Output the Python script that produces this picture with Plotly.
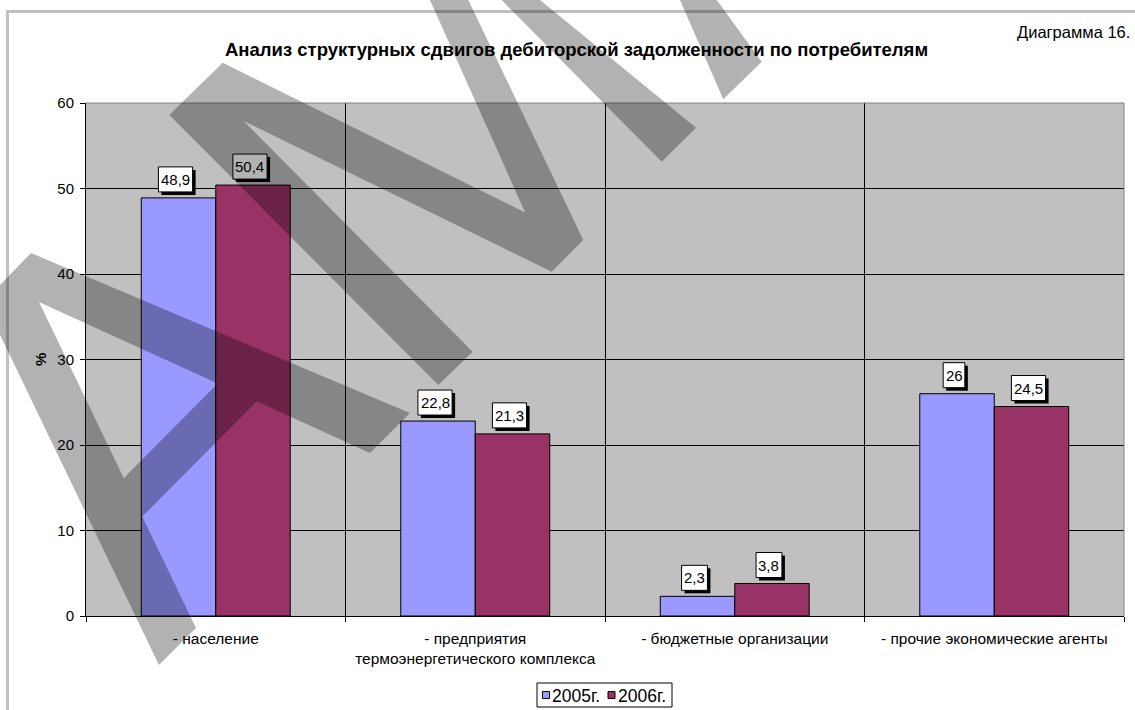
import plotly.graph_objects as go

# ---------------- data ----------------
categories = ["- население",
              "- предприятия<br>термоэнергетического комплекса",
              "- бюджетные организации",
              "- прочие экономические агенты"]
series_names = ["2005г.", "2006г."]
values_2005 = [48.9, 22.8, 2.3, 26.0]
values_2006 = [50.4, 21.3, 3.8, 24.5]
y_ticks = [0, 10, 20, 30, 40, 50, 60]
title_text = "Анализ структурных сдвигов дебиторской задолженности по потребителям"
corner_text = "Диаграмма 16."
y_title = "%"

# ---------------- style ----------------
series_colors = ["#9999FF", "#993366"]
FONT = "Arial, 'Liberation Sans', sans-serif"
W, H = 1135, 710
L, R, T, B = 86, 11, 103, 94
PW, PH = W - L - R, H - T - B
BARGAP = 0.426
LABEL_FS = 15


def paper(px, py):
    return ((px - L) / PW, (H - B - py) / PH)


def fmt(v):
    return f"{v:g}".replace(".", ",")


def text_w(s, fs):
    w = 0.0
    for ch in s:
        if ch.isdigit():
            w += 0.556
        elif ch in ",.":
            w += 0.278
        else:
            w += 0.55
    return w * fs


fig = go.Figure()
all_values = [values_2005, values_2006]
for name, vals, col in zip(series_names, all_values, series_colors):
    fig.add_trace(go.Bar(
        x=categories, y=vals, name=name,
        marker=dict(color=col, line=dict(color="#000000", width=1)),
        showlegend=False, hoverinfo="skip"))

shapes = []
annotations = []

# plot-area border (grey) on top and right edges
shapes.append(dict(type="line", xref="x domain", yref="y domain", x0=0, x1=1, y0=1, y1=1,
                   line=dict(color="#808080", width=1), layer="above"))
shapes.append(dict(type="line", xref="x domain", yref="y domain", x0=1, x1=1, y0=0, y1=1,
                   line=dict(color="#808080", width=1), layer="above"))

# outer chart frame (top and left edges visible)
fx0, fy0 = paper(6, 11.5)
fx1, _ = paper(1140, 11.5)
_, fy1 = paper(7.5, 715)
lx, _ = paper(7.5, 0)
shapes.append(dict(type="line", xref="paper", yref="paper", x0=fx0, x1=fx1, y0=fy0, y1=fy0,
                   line=dict(color="#C0C0C0", width=3), layer="above"))
shapes.append(dict(type="line", xref="paper", yref="paper", x0=lx, x1=lx, y0=fy0, y1=fy1,
                   line=dict(color="#C0C0C0", width=3), layer="above"))

# data labels: white boxes with black drop shadow
half = (1 - BARGAP) / 4
offsets = [-half, half]
for s, vals in enumerate(all_values):
    for i, v in enumerate(vals):
        xc = i + offsets[s]
        lab = fmt(v)
        w = text_w(lab, LABEL_FS) + 5
        shapes.append(dict(type="rect", xref="x", yref="y", xsizemode="pixel", ysizemode="pixel",
                           xanchor=xc, yanchor=v, x0=-w / 2, x1=w / 2, y0=3, y1=28,
                           fillcolor="#000000", line=dict(width=0), layer="above"))
        shapes.append(dict(type="rect", xref="x", yref="y", xsizemode="pixel", ysizemode="pixel",
                           xanchor=xc, yanchor=v, x0=-3 - w / 2, x1=-3 + w / 2, y0=6, y1=31,
                           fillcolor="#FFFFFF", line=dict(color="#000000", width=1), layer="above"))
        annotations.append(dict(x=xc, y=v, xref="x", yref="y", text=lab, showarrow=False,
                                xshift=-3, yshift=18.5, xanchor="center", yanchor="middle",
                                font=dict(family=FONT, size=LABEL_FS, color="#000000")))

# manual legend
bx0, by0 = paper(537, 707)
bx1, by1 = paper(672, 683)
shapes.append(dict(type="rect", xref="paper", yref="paper", x0=bx0, x1=bx1, y0=by0, y1=by1,
                   fillcolor="#FFFFFF", line=dict(color="#000000", width=1), layer="above"))
legend_x = [542.5, 608]
for name, col, lxp in zip(series_names, series_colors, legend_x):
    sx0, sy0 = paper(lxp, 698.5)
    sx1, sy1 = paper(lxp + 7, 691.5)
    shapes.append(dict(type="rect", xref="paper", yref="paper", x0=sx0, x1=sx1, y0=sy0, y1=sy1,
                       fillcolor=col, line=dict(color="#000000", width=1), layer="above"))
    tx, ty = paper(lxp + 7.5, 695.5)
    annotations.append(dict(x=tx, y=ty, xref="paper", yref="paper", text=name, showarrow=False,
                            xanchor="left", yanchor="middle",
                            font=dict(family=FONT, size=17.5, color="#000000")))

# watermark (decorative grey strokes over the picture)
watermark_quads = [
    [(31, 253), (410, 413), (370, 453), (0.5, 284.4)],
    [(-16, 301.5), (20.6, 263.7), (196, 628), (159, 665)],
    [(130, 529), (111, 491), (230, 371), (269, 389)],
    [(169.3, 115), (203.9, 81.1), (472.7, 351.7), (438.3, 385)],
    [(190, 94.7), (222.7, 62.7), (565, 232.3), (551.7, 271.7)],
    [(425.5, -10), (463.5, -10), (583.3, 240), (551.7, 271.7)],
    [(491.8, -10), (527.8, -10), (696, 127.7), (661.7, 161.7)],
    [(675.6, -10), (709.4, -10), (761.7, 61.7), (723.3, 99.3)],
]
parts = []
for quad in watermark_quads:
    pts = [paper(px, py) for px, py in quad]
    area = sum(pts[k][0] * pts[(k + 1) % 4][1] - pts[(k + 1) % 4][0] * pts[k][1] for k in range(4))
    if area < 0:
        pts = pts[::-1]
    parts.append("M " + " L ".join(f"{x:.5f},{y:.5f}" for x, y in pts) + " Z")
shapes.append(dict(type="path", xref="paper", yref="paper", path=" ".join(parts),
                   fillcolor="rgba(0,0,0,0.3)", line=dict(width=0), fillrule="nonzero",
                   layer="above"))

# titles
tx, ty = paper(576, 49.5)
annotations.append(dict(x=tx, y=ty, xref="paper", yref="paper", text=f"<b>{title_text}</b>",
                        showarrow=False, xanchor="center", yanchor="middle",
                        font=dict(family=FONT, size=18.5, color="#000000")))
cx, cy = paper(1132, 32)
annotations.append(dict(x=cx, y=cy, xref="paper", yref="paper", text=corner_text,
                        showarrow=False, xanchor="right", yanchor="middle",
                        font=dict(family=FONT, size=16.5, color="#000000")))
ax_, ay_ = paper(40, 360)
annotations.append(dict(x=ax_, y=ay_, xref="paper", yref="paper", text=f"<b>{y_title}</b>",
                        showarrow=False, textangle=-90, xanchor="center", yanchor="middle",
                        font=dict(family=FONT, size=15, color="#000000")))

fig.update_layout(
    width=W, height=H,
    margin=dict(l=L, r=R, t=T, b=B, pad=0, autoexpand=False),
    paper_bgcolor="#FFFFFF", plot_bgcolor="#C0C0C0",
    barmode="group", bargap=BARGAP, bargroupgap=0,
    showlegend=False,
    font=dict(family=FONT, size=15, color="#000000"),
    shapes=shapes, annotations=annotations,
    xaxis=dict(type="category", categoryorder="array", categoryarray=categories,
               tickson="boundaries", ticks="outside", ticklen=5, tickcolor="#000000",
               ticklabelstandoff=8,
               showgrid=True, gridcolor="#000000", gridwidth=1,
               showline=True, linecolor="#000000", linewidth=1, automargin=False,
               tickfont=dict(family=FONT, size=15.5, color="#000000"),
               fixedrange=True),
    yaxis=dict(range=[0, 60], tickvals=y_ticks, ticks="outside", ticklen=5, tickcolor="#000000",
               ticklabelstandoff=3,
               showgrid=True, gridcolor="#000000", gridwidth=1, zeroline=False,
               showline=True, linecolor="#000000", linewidth=1, automargin=False,
               tickfont=dict(family=FONT, size=15, color="#000000"),
               fixedrange=True),
)

fig.write_html("out.html", config={"displayModeBar": False},
               post_script="document.body.style.margin='0px';document.body.style.overflow='hidden';")
